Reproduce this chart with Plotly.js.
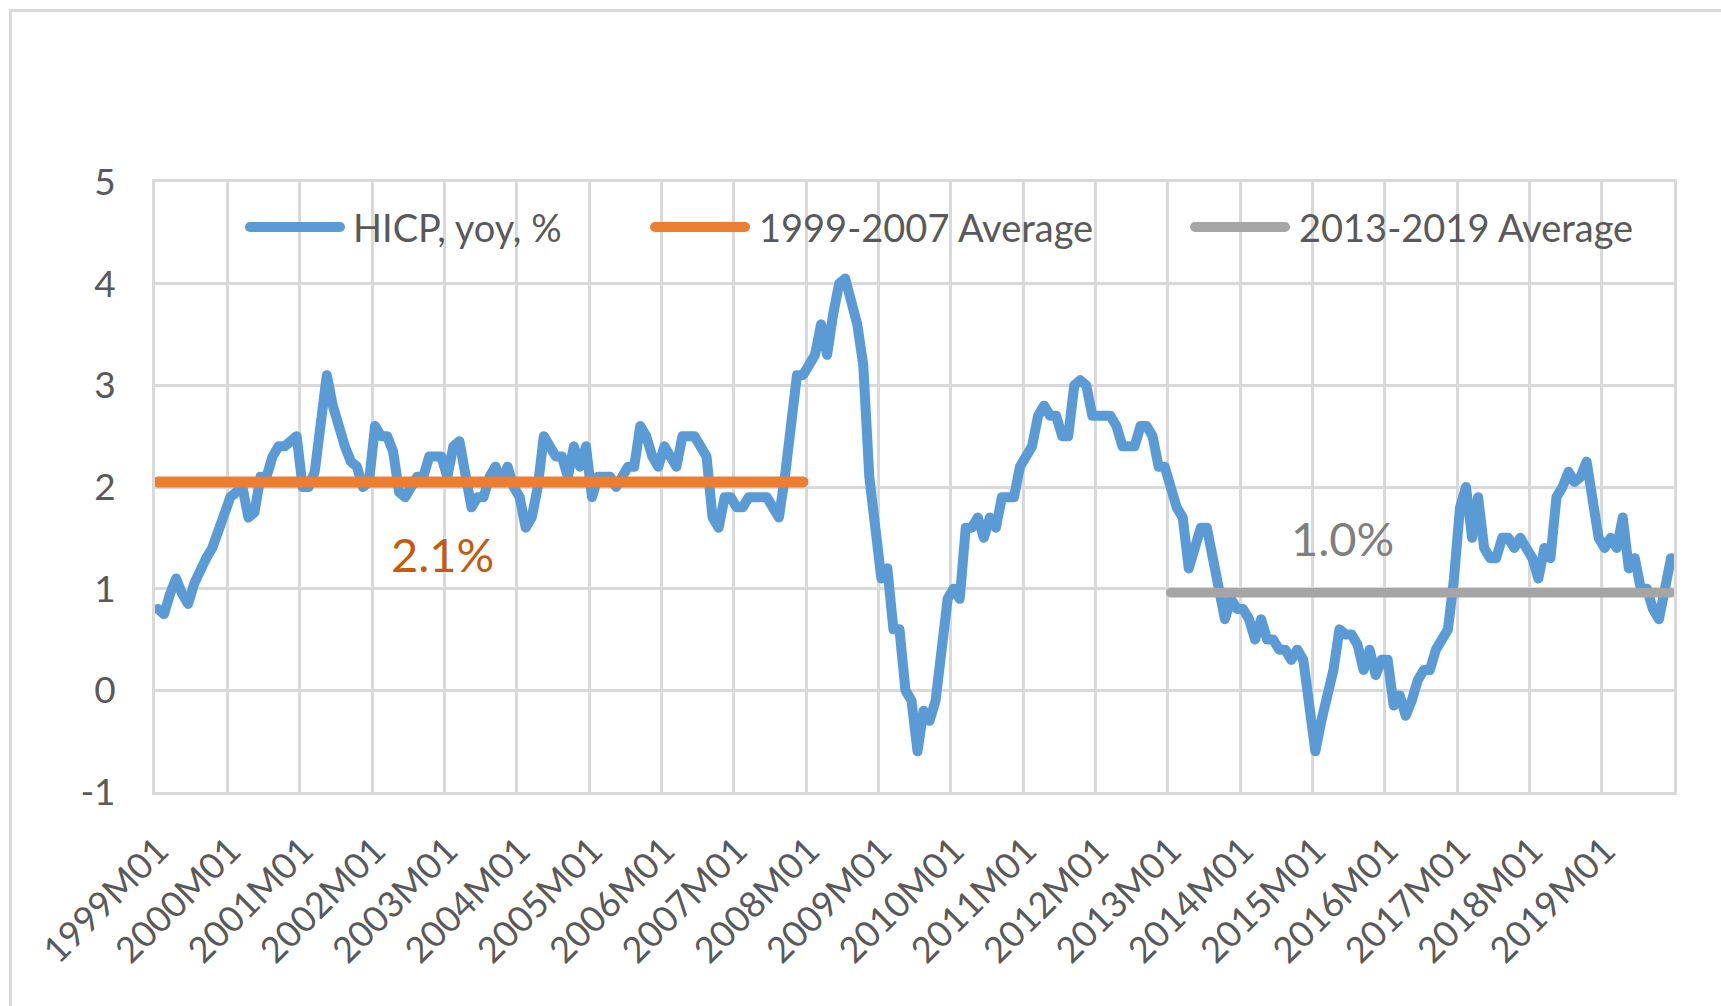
<!DOCTYPE html>
<html>
<head>
<meta charset="utf-8">
<script src="https://cdn.plot.ly/plotly-3.0.1.min.js"></script>
<style>
html,body{margin:0;padding:0;background:#ffffff;overflow:hidden;}
#chart{position:absolute;left:0;top:0;width:1721px;height:1006px;}
#frame{position:absolute;left:9px;top:9px;width:1800px;height:1100px;border-left:3px solid #D9D9D9;border-top:3px solid #D9D9D9;pointer-events:none;}
.js-line{stroke-linejoin:round !important;stroke-linecap:round !important;}
.shapelayer path{stroke-linecap:round;}
</style>
</head>
<body>
<div id="chart"></div>
<div id="frame"></div>
<script>
// ---- data ----
const years = [1999,2000,2001,2002,2003,2004,2005,2006,2007,2008,2009,2010,2011,2012,2013,2014,2015,2016,2017,2018,2019];
const monthCodes = ['M01','M02','M03','M04','M05','M06','M07','M08','M09','M10','M11','M12'];

const hicp1999 = [0.8, 0.75, 0.95, 1.1, 0.95, 0.85, 1.05, 1.2, 1.3, 1.4, 1.55, 1.75];
const hicp2000 = [1.9, 1.95, 2.0, 1.7, 1.75, 2.1, 2.1, 2.3, 2.4, 2.4, 2.45, 2.5];
const hicp2001 = [2.0, 2.0, 2.15, 2.6, 3.1, 2.8, 2.55, 2.4, 2.25, 2.2, 2.0, 2.05];
const hicp2002 = [2.6, 2.5, 2.5, 2.35, 1.95, 1.9, 2.0, 2.1, 2.1, 2.3, 2.3, 2.3];
const hicp2003 = [2.1, 2.4, 2.45, 2.1, 1.8, 1.9, 1.9, 2.1, 2.2, 2.05, 2.2, 2.0];
const hicp2004 = [1.9, 1.6, 1.7, 2.0, 2.5, 2.4, 2.3, 2.3, 2.1, 2.4, 2.2, 2.4];
const hicp2005 = [1.9, 2.1, 2.1, 2.1, 2.0, 2.1, 2.2, 2.2, 2.6, 2.5, 2.3, 2.2];
const hicp2006 = [2.4, 2.3, 2.2, 2.5, 2.5, 2.5, 2.4, 2.3, 1.7, 1.6, 1.9, 1.9];
const hicp2007 = [1.8, 1.8, 1.9, 1.9, 1.9, 1.9, 1.8, 1.7, 2.1, 2.6, 3.1, 3.1];
const hicp2008 = [3.2, 3.3, 3.6, 3.3, 3.7, 4.0, 4.05, 3.8, 3.6, 3.2, 2.1, 1.6];
const hicp2009 = [1.1, 1.2, 0.6, 0.6, 0.0, -0.1, -0.6, -0.2, -0.3, -0.1, 0.5, 0.9];
const hicp2010 = [1.0, 0.9, 1.6, 1.6, 1.7, 1.5, 1.7, 1.6, 1.9, 1.9, 1.9, 2.2];
const hicp2011 = [2.3, 2.4, 2.7, 2.8, 2.7, 2.7, 2.5, 2.5, 3.0, 3.05, 3.0, 2.7];
const hicp2012 = [2.7, 2.7, 2.7, 2.6, 2.4, 2.4, 2.4, 2.6, 2.6, 2.5, 2.2, 2.2];
const hicp2013 = [2.0, 1.8, 1.7, 1.2, 1.4, 1.6, 1.6, 1.3, 1.1, 0.7, 0.9, 0.8];
const hicp2014 = [0.8, 0.7, 0.5, 0.7, 0.5, 0.5, 0.4, 0.4, 0.3, 0.4, 0.3, -0.2];
const hicp2015 = [-0.6, -0.3, -0.05, 0.2, 0.6, 0.55, 0.55, 0.45, 0.2, 0.4, 0.15, 0.3];
const hicp2016 = [0.3, -0.15, -0.05, -0.25, -0.1, 0.1, 0.2, 0.2, 0.4, 0.5, 0.6, 1.1];
const hicp2017 = [1.8, 2.0, 1.5, 1.9, 1.4, 1.3, 1.3, 1.5, 1.5, 1.4, 1.5, 1.4];
const hicp2018 = [1.3, 1.1, 1.4, 1.3, 1.9, 2.0, 2.15, 2.05, 2.1, 2.25, 1.9, 1.5];
const hicp2019 = [1.4, 1.5, 1.4, 1.7, 1.2, 1.3, 1.0, 1.0, 0.8, 0.7, 1.0, 1.3];

const avgPre = {from: '1999M01', to: '2007M12', value: 2.05, label: '2.1%'};
const avgPost = {from: '2013M01', to: '2019M12', value: 0.96, label: '1.0%'};

const seriesNames = ['HICP, yoy, %', '1999-2007 Average', '2013-2019 Average'];
const tickLabels = ['1999M01','2000M01','2001M01','2002M01','2003M01','2004M01','2005M01','2006M01','2007M01','2008M01','2009M01','2010M01','2011M01','2012M01','2013M01','2014M01','2015M01','2016M01','2017M01','2018M01','2019M01'];
const yTickValues = [-1, 0, 1, 2, 3, 4, 5];
const yTickLabels = ['-1', '0', '1', '2', '3', '4', '5'];

// ---- build ----
const months = years.flatMap(y => monthCodes.map(m => y + m));
const hicp = [].concat(hicp1999, hicp2000, hicp2001, hicp2002, hicp2003, hicp2004, hicp2005,
  hicp2006, hicp2007, hicp2008, hicp2009, hicp2010, hicp2011, hicp2012, hicp2013, hicp2014,
  hicp2015, hicp2016, hicp2017, hicp2018, hicp2019);
const pos = m => months.indexOf(m);
const xAll = months.map((m, i) => i);

const BLUE = '#5B9BD5', ORANGE = '#ED7D31', GRAY = '#A5A5A5', TXT = '#595959', GRID = '#D9D9D9';
const FONT = 'Lato, "Open Sans", sans-serif';

const traces = [
  {x: xAll, y: hicp, text: months, type: 'scatter', mode: 'lines', name: seriesNames[0],
   line: {color: BLUE, width: 10}, hoverinfo: 'text+y'},
  {x: [pos(avgPre.from), pos(avgPre.to)], y: [avgPre.value, avgPre.value], type: 'scatter', mode: 'lines',
   name: seriesNames[1], line: {color: ORANGE, width: 11}},
  {x: [pos(avgPost.from), pos(avgPost.to)], y: [avgPost.value, avgPost.value], type: 'scatter', mode: 'lines',
   name: seriesNames[2], line: {color: GRAY, width: 9.5}}
];

// custom legend (long round-capped samples like the original)
const legY = 0.9263;
const legItems = [
  {x0: 0.0625, x1: 0.1218, tx: 0.1290, color: BLUE, text: seriesNames[0]},
  {x0: 0.3292, x1: 0.3884, tx: 0.3963, color: ORANGE, text: seriesNames[1]},
  {x0: 0.6847, x1: 0.7439, tx: 0.7518, color: GRAY, text: seriesNames[2]}
];
const shapes = legItems.map(it => ({type: 'line', xref: 'paper', yref: 'paper', x0: it.x0, x1: it.x1,
  y0: legY, y1: legY, line: {color: it.color, width: 10}}));
const annotations = legItems.map(it => ({xref: 'paper', yref: 'paper', x: it.tx, y: legY,
  xanchor: 'left', yanchor: 'middle', text: it.text, showarrow: false,
  font: {family: FONT, size: 38, color: TXT}}));
annotations.push({xref: 'x', yref: 'y', x: 47.2, y: 1.34, text: avgPre.label, showarrow: false,
  xanchor: 'center', yanchor: 'middle', font: {family: FONT, size: 47, color: '#C55A11'}});
annotations.push({xref: 'x', yref: 'y', x: 196.5, y: 1.5, text: avgPost.label, showarrow: false,
  xanchor: 'center', yanchor: 'middle', font: {family: FONT, size: 47, color: '#7F7F7F'}});

const layout = {
  width: 1721, height: 1006,
  margin: {l: 155, r: 47, t: 182, b: 214},
  paper_bgcolor: '#ffffff', plot_bgcolor: '#ffffff',
  showlegend: false,
  font: {family: FONT, color: TXT},
  xaxis: {
    range: [-0.5, months.length - 0.5], fixedrange: true,
    tickmode: 'array', tickvals: tickLabels.map(pos), ticktext: tickLabels,
    tickangle: -45, ticks: '', showgrid: false, zeroline: false,
    ticklabelstandoff: 20,
    tickfont: {family: FONT, size: 36, color: TXT},
    minor: {tickmode: 'linear', tick0: -0.5, dtick: 12, showgrid: true, gridcolor: GRID, gridwidth: 3, ticks: ''},
    showline: true, mirror: true, linecolor: GRID, linewidth: 3
  },
  yaxis: {
    range: [-1, 5], fixedrange: true,
    tickmode: 'array', tickvals: yTickValues, ticktext: yTickLabels,
    ticks: '', showgrid: true, gridcolor: GRID, gridwidth: 3, zeroline: false,
    ticklabelstandoff: 29,
    tickfont: {family: FONT, size: 37, color: TXT},
    showline: true, mirror: true, linecolor: GRID, linewidth: 3
  },
  shapes: shapes,
  annotations: annotations
};

Plotly.newPlot('chart', traces, layout, {displayModeBar: false, staticPlot: true});
</script>
</body>
</html>
